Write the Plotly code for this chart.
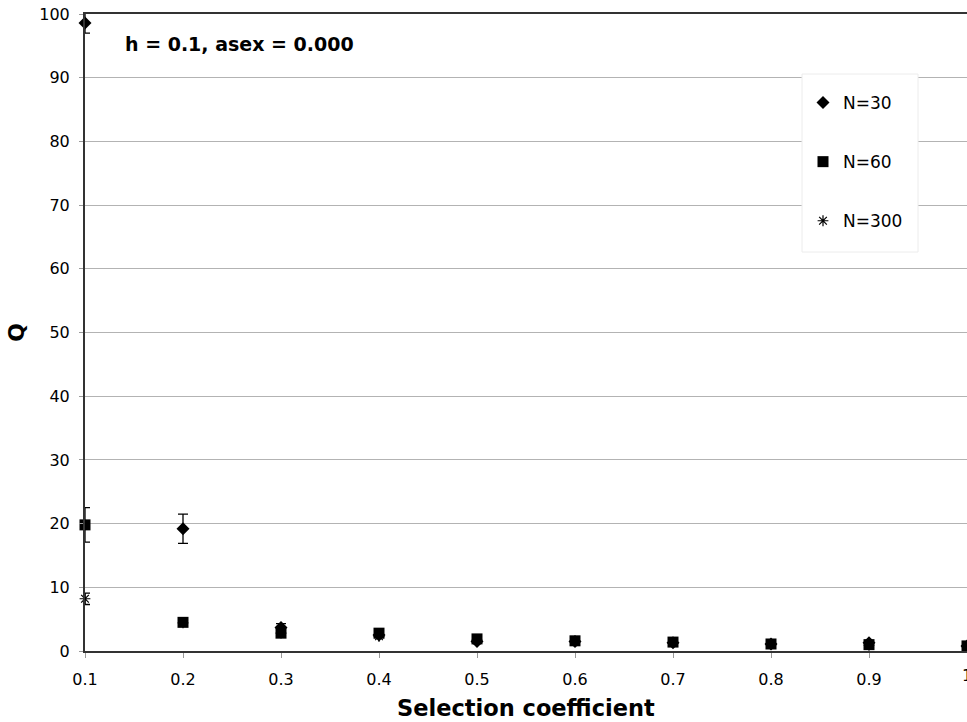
import plotly.graph_objects as go

x_vals = [0.1, 0.2, 0.3, 0.4, 0.5, 0.6, 0.7, 0.8, 0.9, 1.0]
x_labels = ["0.1", "0.2", "0.3", "0.4", "0.5", "0.6", "0.7", "0.8", "0.9", "1"]

n30_y = [98.6, 19.2, 3.7, 2.5, 1.5, 1.5, 1.3, 1.1, 1.3, 0.8]
n30_err = [1.6, 2.3, 0.6, 0.3, 0.3, 0.2, 0.2, 0.2, 0.3, 0.1]

n60_y = [19.8, 4.5, 2.8, 2.8, 1.9, 1.6, 1.4, 1.1, 1.0, 0.8]
n60_err = [2.7, 0.3, 0.3, 0.3, 0.2, 0.2, 0.2, 0.1, 0.1, 0.1]

n300_y = [8.2, 4.4, 2.8, 2.3, 1.7, 1.5, 1.3, 1.0, 0.9, 0.7]
n300_err = [0.9, 0.2, 0.2, 0.2, 0.1, 0.1, 0.1, 0.1, 0.1, 0.1]

font_family = "DejaVu Sans, Verdana, sans-serif"

fig = go.Figure()

fig.add_trace(go.Scatter(
    x=x_vals, y=n300_y, mode="markers", name="N=300", legendgroup="c", legendrank=3,
    marker=dict(symbol="asterisk-open", size=9, color="black",
                line=dict(color="black", width=1.2)),
    error_y=dict(type="data", array=n300_err, visible=True, color="black",
                 thickness=1.3, width=5),
    cliponaxis=False,
))
fig.add_trace(go.Scatter(
    x=x_vals, y=n30_y, mode="markers", name="N=30", legendgroup="a", legendrank=1,
    marker=dict(symbol="diamond", size=10, color="black"),
    error_y=dict(type="data", array=n30_err, visible=True, color="black",
                 thickness=1.3, width=5),
    cliponaxis=False,
))
fig.add_trace(go.Scatter(
    x=x_vals, y=n60_y, mode="markers", name="N=60", legendgroup="b", legendrank=2,
    marker=dict(symbol="square", size=11, color="black"),
    error_y=dict(type="data", array=n60_err, visible=True, color="black",
                 thickness=1.3, width=5),
    cliponaxis=False,
))

plot_w = 967 - 85
plot_h = 722 - 14 - 71


def px_x(p):
    return (p - 85) / plot_w


def px_y(p):
    return (651 - p) / plot_h


fig.update_layout(
    width=967, height=722,
    margin=dict(l=85, r=0, t=14, b=71),
    paper_bgcolor="white", plot_bgcolor="white",
    font=dict(family=font_family, size=16, color="black"),
    showlegend=True,
    legend=dict(
        x=px_x(803), y=px_y(85),
        xanchor="left", yanchor="top",
        traceorder="grouped",
        bgcolor="rgba(0,0,0,0)", borderwidth=0,
        font=dict(family=font_family, size=17, color="black"),
        tracegroupgap=34,
        itemwidth=30,
    ),
    shapes=[dict(
        type="rect", xref="paper", yref="paper",
        x0=px_x(802), x1=px_x(918), y0=px_y(252), y1=px_y(74),
        fillcolor="white", line=dict(color="#ececec", width=1), layer="above",
    )],
    annotations=[
        dict(
            text="<b>h = 0.1, asex = 0.000</b>",
            x=px_x(123), y=px_y(44),
            xref="paper", yref="paper",
            xanchor="left", yanchor="middle", showarrow=False,
            font=dict(family=font_family, size=19, color="black"),
        ),
        dict(
            text=x_labels[-1], x=x_vals[-1], y=0, xref="x", yref="y",
            xanchor="center", yanchor="middle", yshift=-24, showarrow=False,
            font=dict(family=font_family, size=16, color="black"),
        ),
        dict(
            text="<b>Selection coefficient</b>",
            x=0.5, y=px_y(708), xref="paper", yref="paper",
            xanchor="center", yanchor="middle", showarrow=False,
            font=dict(family=font_family, size=22.5, color="black"),
        ),
    ],
)

fig.update_xaxes(
    range=[0.1, 1.0], tickvals=x_vals[:-1], ticktext=x_labels[:-1],
    showgrid=False, zeroline=False,
    showline=True, linecolor="#333333", linewidth=2, mirror=True,
    ticks="outside", ticklen=5, tickcolor="#999999",
    ticklabelstandoff=8,
    tickfont=dict(family=font_family, size=16),
)
fig.update_yaxes(
    range=[0, 100], tickvals=list(range(0, 101, 10)),
    showgrid=True, gridcolor="#b3b3b3", gridwidth=1, zeroline=False,
    showline=True, linecolor="#333333", linewidth=2,
    ticks="outside", ticklen=4, tickcolor="#999999",
    ticklabelstandoff=6,
    tickfont=dict(family=font_family, size=16),
    title=dict(text="<b>Q</b>", standoff=9,
               font=dict(family=font_family, size=22)),
)

fig.write_html("out.html")
